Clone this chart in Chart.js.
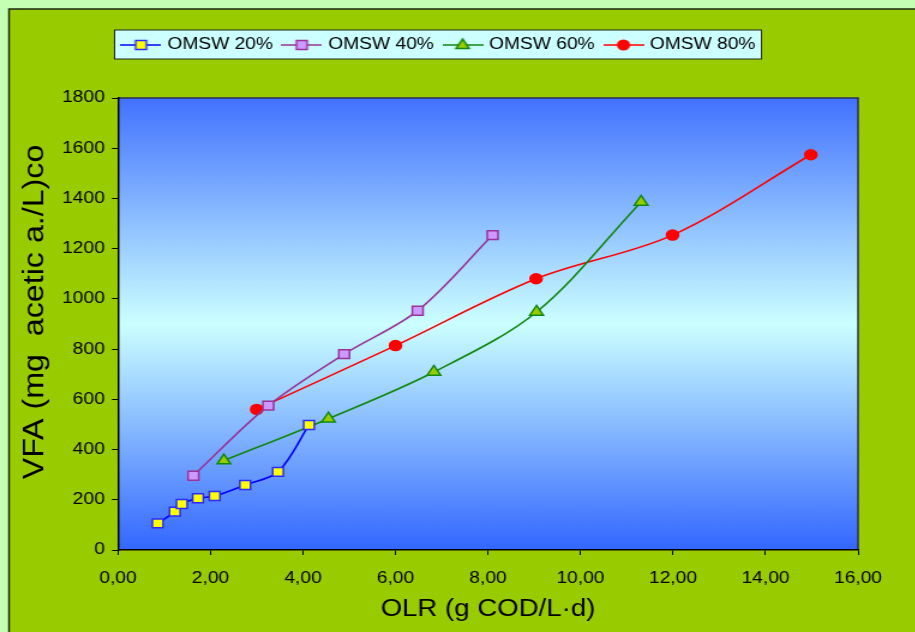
<!DOCTYPE html>
<html>
<head>
<meta charset="utf-8">
<script src="https://cdn.jsdelivr.net/npm/chart.js@4.4.1/dist/chart.umd.min.js"></script>
<style>
    html, body { margin: 0; padding: 0; background: #c4ffb4; overflow: hidden; }
    /* the reference is stretched sideways, so the canvas is too */
    #wrap { width: 763px; height: 632px; transform: scaleX(1.2); transform-origin: 0 0; }
</style>
</head>
<body>
<div id="wrap"><canvas id="chart1" width="763" height="632"></canvas></div>
<script>
// values
const seriesLabels = ['OMSW 20%', 'OMSW 40%', 'OMSW 60%', 'OMSW 80%'];

const omsw20X = [0.86, 1.23, 1.38, 1.73, 2.09, 2.75, 3.46, 4.13];
const omsw20Y = [106, 153, 183, 206, 215, 259, 311, 498];

const omsw40X = [1.63, 3.25, 4.89, 6.48, 8.10];
const omsw40Y = [296, 575, 780, 953, 1254];

const omsw60X = [2.29, 4.55, 6.83, 9.05, 11.31];
const omsw60Y = [356, 523, 709, 948, 1386];

const omsw80X = [3.00, 6.00, 9.04, 11.99, 14.98];
const omsw80Y = [560, 814, 1080, 1254, 1574];

const xTicks = [0, 2, 4, 6, 8, 10, 12, 14, 16];
const yTicks = [0, 200, 400, 600, 800, 1000, 1200, 1400, 1600, 1800];

const xTitle = 'OLR (g COD/L·d)';
const yTitle = 'VFA (mg  acetic a./L)co';

// looks of each series
const looks = [
    { line: '#0000ff', fill: '#ffff00', edge: '#2b2bff', style: 'rect', r: 6.3 },
    { line: '#993399', fill: '#cc99ff', edge: '#993399', style: 'rect', r: 6.3 },
    { line: '#118811', fill: '#99cc00', edge: '#118811', style: 'triangle', r: 6.5 },
    { line: '#ff0000', fill: '#ff0000', edge: '#ff0000', style: 'circle', r: 5 }
];

const xs = [omsw20X, omsw40X, omsw60X, omsw80X];
const ys = [omsw20Y, omsw40Y, omsw60Y, omsw80Y];

// little line + marker picture for the legend
const legendIcon = (s) => {
    const c = document.createElement('canvas');
    c.width = 34;
    c.height = 16;
    const g = c.getContext('2d');
    g.strokeStyle = s.line;
    g.lineWidth = 1.5;
    g.beginPath();
    g.moveTo(0, 8);
    g.lineTo(34, 8);
    g.stroke();
    g.fillStyle = s.fill;
    g.strokeStyle = s.edge;
    g.beginPath();
    if (s.style === 'rect') {
        g.rect(12.5, 3.5, 9, 9);
    } else if (s.style === 'triangle') {
        g.moveTo(17, 2);
        g.lineTo(22.5, 11.5);
        g.lineTo(11.5, 11.5);
        g.closePath();
    } else {
        g.arc(17, 8, 4.8, 0, Math.PI * 2);
    }
    g.fill();
    g.stroke();
    return c;
};
const icons = looks.map(legendIcon);

const datasets = seriesLabels.map((label, i) => ({
    label: label,
    data: xs[i].map((x, j) => ({ x: x, y: ys[i][j] })),
    showLine: true,
    tension: 0.33,
    borderColor: looks[i].line,
    borderWidth: 1.6,
    pointStyle: looks[i].style,
    pointRadius: looks[i].r,
    pointHoverRadius: looks[i].r,
    pointBackgroundColor: looks[i].fill,
    pointBorderColor: looks[i].edge,
    pointBorderWidth: 1.5
}));

// backgrounds: page, green panel, legend box, plot gradient
const backdrop = {
    id: 'backdrop',
    beforeInit(chart) {
        const fit = chart.legend.fit;
        chart.legend.fit = function () {
            fit.call(this);
            this.height = 71;
        };
    },
    beforeDraw(chart) {
        const { ctx, chartArea: a, width, height } = chart;
        ctx.save();
        ctx.fillStyle = '#c4ffb4';
        ctx.fillRect(0, 0, width, height);
        ctx.fillStyle = '#99cc00';
        ctx.fillRect(7.5, 9, width, height);
        ctx.strokeStyle = '#1e2a10';
        ctx.lineWidth = 1.5;
        ctx.beginPath();
        ctx.moveTo(7.5, height);
        ctx.lineTo(7.5, 9);
        ctx.lineTo(width, 9);
        ctx.stroke();

        const hb = chart.legend.legendHitBoxes;
        if (hb && hb.length) {
            const last = hb[hb.length - 1];
            const left = hb[0].left - 8;
            const right = last.left + last.width + 5;
            ctx.fillStyle = '#ccffff';
            ctx.fillRect(left, 30, right - left, 29);
            ctx.strokeStyle = '#222';
            ctx.lineWidth = 1;
            ctx.strokeRect(left, 30, right - left, 29);
        }

        const grad = ctx.createLinearGradient(0, a.top, 0, a.bottom);
        grad.addColorStop(0, '#4272ff');
        grad.addColorStop(0.5, '#ccffff');
        grad.addColorStop(1, '#3366ff');
        ctx.fillStyle = grad;
        ctx.fillRect(a.left, a.top, a.right - a.left, a.bottom - a.top);
        ctx.strokeStyle = '#2a2f55';
        ctx.lineWidth = 1.5;
        ctx.beginPath();
        ctx.moveTo(a.left, a.top);
        ctx.lineTo(a.right, a.top);
        ctx.lineTo(a.right, a.bottom);
        ctx.stroke();
        ctx.restore();
    },
    // y title is drawn long and thin, like the reference
    afterDraw(chart) {
        const ctx = chart.ctx;
        ctx.save();
        ctx.translate(30, 312);
        ctx.rotate(-Math.PI / 2);
        ctx.scale(1.4, 1);
        ctx.font = '23px "Liberation Sans", Arial, sans-serif';
        ctx.fillStyle = '#000';
        ctx.textAlign = 'center';
        ctx.textBaseline = 'middle';
        ctx.fillText(yTitle, 0, 0);
        ctx.restore();
    }
};

Chart.defaults.font.family = '"Liberation Sans", Arial, sans-serif';
Chart.defaults.color = '#000';

const ctx = document.querySelector('#chart1');

new Chart(ctx, {
    type: 'scatter',
    data: { datasets: datasets },
    plugins: [backdrop],
    options: {
        responsive: false,
        animation: false,
        layout: {
            padding: { top: 27, left: 18, right: 48, bottom: 0 }
        },
        plugins: {
            legend: {
                position: 'top',
                labels: {
                    usePointStyle: true,
                    pointStyleWidth: 28,
                    padding: 10,
                    font: { size: 16 },
                    color: '#000',
                    generateLabels: (chart) => chart.data.datasets.map((ds, i) => ({
                        text: ds.label,
                        pointStyle: icons[i],
                        datasetIndex: i,
                        hidden: false,
                        lineWidth: 0,
                        fontColor: '#000'
                    }))
                }
            },
            tooltip: { enabled: false }
        },
        scales: {
            x: {
                type: 'linear',
                min: xTicks[0],
                max: xTicks[xTicks.length - 1],
                afterFit: (scale) => { scale.height = 82; },
                afterBuildTicks: (scale) => { scale.ticks = xTicks.map(v => ({ value: v })); },
                ticks: {
                    font: { size: 16 },
                    padding: 14,
                    maxRotation: 0,
                    callback: (v) => v.toFixed(2).replace('.', ',')
                },
                grid: { drawOnChartArea: false, drawTicks: true, tickLength: 5, color: '#000' },
                border: { color: '#000', width: 1.5 },
                title: {
                    display: true,
                    text: xTitle,
                    font: { size: 23 },
                    padding: { top: 0, bottom: 9 }
                }
            },
            y: {
                type: 'linear',
                min: yTicks[0],
                max: yTicks[yTicks.length - 1],
                afterFit: (scale) => { scale.width = 80.3; },
                afterBuildTicks: (scale) => { scale.ticks = yTicks.map(v => ({ value: v })); },
                ticks: {
                    font: { size: 16 },
                    padding: 6,
                    callback: (v) => String(v)
                },
                grid: { drawOnChartArea: false, drawTicks: true, tickLength: 5, color: '#000' },
                border: { color: '#000', width: 1.5 }
            }
        }
    }
});
</script>
</body>
</html>
